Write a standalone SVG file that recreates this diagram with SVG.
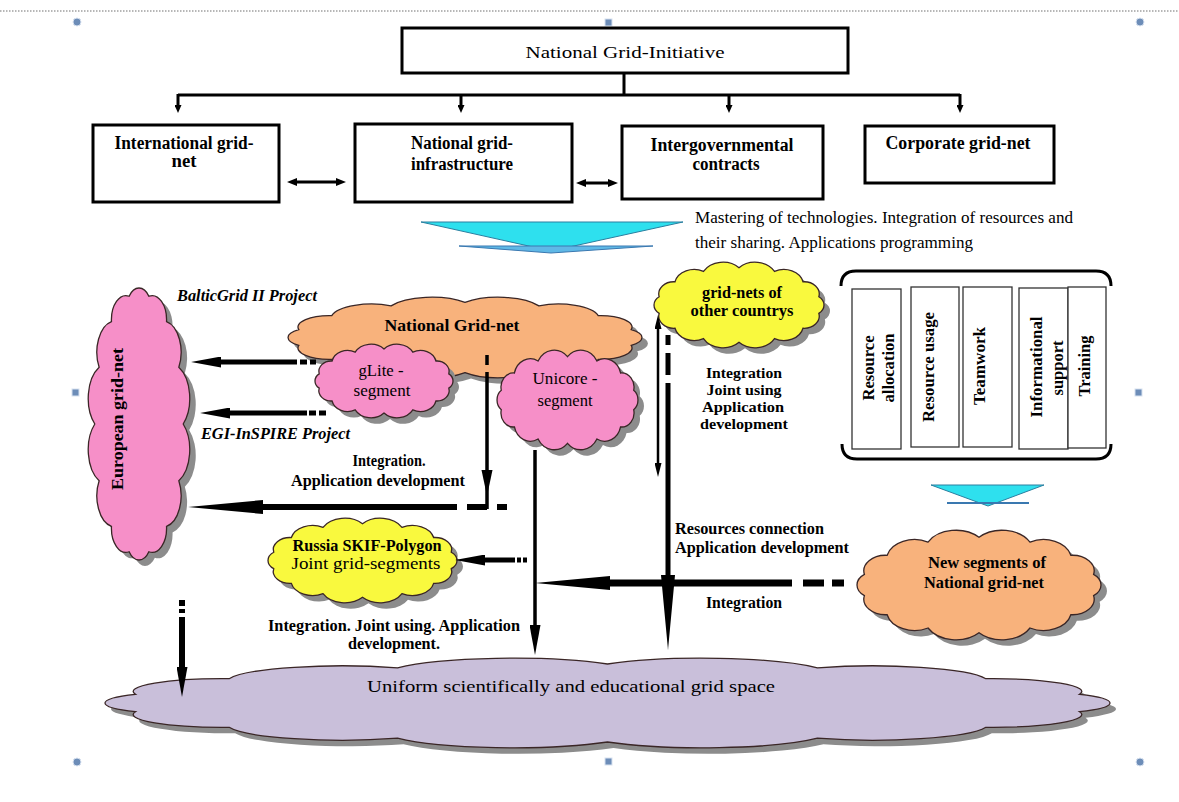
<svg xmlns="http://www.w3.org/2000/svg" width="1179" height="802" viewBox="0 0 1179 802">
<style>
text{font-family:"Liberation Serif","Times New Roman",serif;fill:#000}
.b{font-weight:bold;font-size:16.5px}
.bs{font-weight:bold;font-size:15px}
.bi{font-weight:bold;font-style:italic;font-size:16px}
.r{font-weight:normal;font-size:17px}
.bx{font-weight:bold;font-size:18px}
.m{text-anchor:middle}
.box{fill:#fff;stroke:#000;stroke-width:3}
.col{fill:#fff;stroke:#333;stroke-width:1.3}
.cl{stroke:#3a2626;stroke-width:1.3}
.sh{fill:#8c8c8c}
.pink{fill:#f68fc8}
.orange{fill:#f8b27c}
.yellow{fill:#f9f93e}
.lav{fill:#c9bfda}
.ln{fill:none;stroke:#000}
.hd{fill:#000}
.hnd{fill:#6d8db8;stroke:#d8e2f0;stroke-width:1}
</style>
<defs>
<path id="cloud" vector-effect="non-scaling-stroke" d="M100,8 A25,25 0 0 1 139.9,13.15 A22,22 0 0 1 171.9,27.6 A17,17 0 0 1 189.7,48.4 A14.5,14.5 0 0 1 189.7,71.6 A17,17 0 0 1 171.9,92.4 A22,22 0 0 1 139.9,106.9 A25,25 0 0 1 100,112 A25,25 0 0 1 60.1,106.9 A22,22 0 0 1 28.1,92.4 A17,17 0 0 1 10.3,71.6 A14.5,14.5 0 0 1 10.3,48.4 A17,17 0 0 1 28.1,27.6 A22,22 0 0 1 60.1,13.15 A25,25 0 0 1 100,8 Z"/>
<marker id="ah" markerUnits="userSpaceOnUse" markerWidth="8" markerHeight="7" refX="0" refY="3.5" orient="auto"><path d="M0,0 L8,3.5 L0,7 z" class="hd"/></marker>
<marker id="ad" markerUnits="userSpaceOnUse" markerWidth="10" markerHeight="8" refX="0" refY="4" orient="auto-start-reverse"><path d="M0,0 L10,4 L0,8 z" class="hd"/></marker>
<marker id="at" markerUnits="userSpaceOnUse" markerWidth="14" markerHeight="7" refX="0" refY="3.5" orient="auto-start-reverse"><path d="M0,0 L14,3.5 L0,7 z" class="hd"/></marker>
<marker id="am" markerUnits="userSpaceOnUse" markerWidth="30" markerHeight="11" refX="0" refY="5.5" orient="auto"><path d="M0,0 L30,5.5 L0,11 z" class="hd"/></marker>
<marker id="al" markerUnits="userSpaceOnUse" markerWidth="75" markerHeight="14" refX="0" refY="7" orient="auto"><path d="M0,0 L75,7 L0,14 z" class="hd"/></marker>
</defs>

<g id="canvas-frame">
<line x1="0" y1="11" x2="1179" y2="11" stroke="#a0a0a0" stroke-width="1.5" stroke-dasharray="1.5 1.5"/>
<circle class="hnd" cx="77" cy="22" r="4"/>
<circle class="hnd" cx="1140" cy="22" r="4"/>
<circle class="hnd" cx="77" cy="762" r="4"/>
<circle class="hnd" cx="1140" cy="762" r="4"/>
<rect class="hnd" x="605" y="19" width="7" height="7"/>
<rect class="hnd" x="72" y="389" width="7" height="7"/>
<rect class="hnd" x="1135" y="389" width="7" height="7"/>
<rect class="hnd" x="605" y="758" width="7" height="7"/>
</g>

<g id="node-initiative">
<rect class="box" x="402" y="28" width="446" height="45"/>
<text class="r m" x="625" y="58" font-size="19" textLength="199" lengthAdjust="spacingAndGlyphs">National Grid-Initiative</text>
</g>
<g id="node-international">
<rect class="box" x="93" y="125" width="186" height="77"/>
<text class="bx m" x="184" y="149" textLength="139" lengthAdjust="spacingAndGlyphs">International grid-</text>
<text class="bx m" x="184" y="167" textLength="25" lengthAdjust="spacingAndGlyphs">net</text>
</g>
<g id="node-national-infra">
<rect class="box" x="355" y="124" width="217" height="78"/>
<text class="bx m" x="462" y="149" textLength="102" lengthAdjust="spacingAndGlyphs">National grid-</text>
<text class="bx m" x="462" y="170" textLength="102" lengthAdjust="spacingAndGlyphs">infrastructure</text>
</g>
<g id="node-intergov">
<rect class="box" x="622" y="126" width="201" height="73"/>
<text class="bx m" x="722" y="151" textLength="143" lengthAdjust="spacingAndGlyphs">Intergovernmental</text>
<text class="bx m" x="726" y="170" textLength="67" lengthAdjust="spacingAndGlyphs">contracts</text>
</g>
<g id="node-corporate">
<rect class="box" x="865" y="126" width="189" height="57"/>
<text class="bx m" x="958" y="149" textLength="145" lengthAdjust="spacingAndGlyphs">Corporate grid-net</text>
</g>

<g id="chevron-main">
<polygon points="421,222 683,222 551,251" fill="#2ee0ee" stroke="#2a7fa0" stroke-width="1"/>
<polygon points="459,246 653,246 551,253" fill="#5fb8e6" stroke="#3a78b0" stroke-width="1"/>
<text class="r" x="695" y="223" font-size="17.5" textLength="378" lengthAdjust="spacingAndGlyphs">Mastering of technologies. Integration of resources and</text>
<text class="r" x="695" y="248" font-size="17.5" textLength="278" lengthAdjust="spacingAndGlyphs">their sharing. Applications programming</text>
</g>

<g id="node-european">
<use href="#cloud" class="sh" transform="translate(145,430) rotate(90) scale(1.424,0.85) translate(-100,-60)"/>
<use href="#cloud" class="pink cl" transform="translate(139,424) rotate(90) scale(1.424,0.85) translate(-100,-60)"/>
<text class="b m" transform="translate(117,419) rotate(-90)" font-size="17.5" dominant-baseline="central" textLength="142" lengthAdjust="spacingAndGlyphs">European grid-net</text>
</g>

<g id="node-national-gridnet">
<use href="#cloud" class="sh" transform="translate(285.7,303) scale(1.853,0.675)"/>
<use href="#cloud" class="orange cl" transform="translate(279.7,297) scale(1.853,0.675)"/>
<text class="b m" x="452" y="331" font-size="17.5" textLength="135" lengthAdjust="spacingAndGlyphs">National Grid-net</text>
</g>
<g id="node-glite">
<use href="#cloud" class="sh" transform="translate(317.75,350) scale(0.7225,0.6167)"/>
<use href="#cloud" class="pink cl" transform="translate(311.75,344) scale(0.7225,0.6167)"/>
<text class="r m" x="381" y="376" textLength="45" lengthAdjust="spacingAndGlyphs">gLite -</text>
<text class="r m" x="382" y="396" textLength="57" lengthAdjust="spacingAndGlyphs">segment</text>
</g>
<g id="node-unicore">
<use href="#cloud" class="sh" transform="translate(499.7,356) scale(0.738,0.833)"/>
<use href="#cloud" class="pink cl" transform="translate(493.7,350) scale(0.738,0.833)"/>
<text class="r m" x="565" y="384" textLength="65" lengthAdjust="spacingAndGlyphs">Unicore -</text>
<text class="r m" x="565" y="406" textLength="55" lengthAdjust="spacingAndGlyphs">segment</text>
</g>
<g id="node-other-countries">
<use href="#cloud" class="sh" transform="translate(656,268) scale(0.890,0.717)"/>
<use href="#cloud" class="yellow cl" transform="translate(650,262) scale(0.890,0.717)"/>
<text class="b m" x="742" y="298" textLength="80" lengthAdjust="spacingAndGlyphs">grid-nets of</text>
<text class="b m" x="742" y="316" textLength="103" lengthAdjust="spacingAndGlyphs">other countrys</text>
</g>

<g id="node-services">
<path class="ln" stroke-width="3" d="M841,286 Q841,271 856,271 L1096,271 Q1111,271 1111,286"/>
<path class="ln" stroke-width="3" d="M842,444 Q842,459 857,459 L1096,459 Q1111,459 1111,444"/>
<rect class="col" x="852" y="289" width="49" height="160"/>
<rect class="col" x="911" y="287" width="48" height="160"/>
<rect class="col" x="963" y="287" width="49" height="160"/>
<rect class="col" x="1019" y="288" width="49" height="161"/>
<rect class="col" x="1068" y="287" width="38" height="161"/>
<text class="b m" transform="translate(868,368) rotate(-90)" dominant-baseline="central" textLength="65" lengthAdjust="spacingAndGlyphs">Resource</text>
<text class="b m" transform="translate(888,368) rotate(-90)" dominant-baseline="central" textLength="69" lengthAdjust="spacingAndGlyphs">allocation</text>
<text class="b m" transform="translate(928,367) rotate(-90)" dominant-baseline="central" textLength="110" lengthAdjust="spacingAndGlyphs">Resource usage</text>
<text class="b m" transform="translate(979,366) rotate(-90)" dominant-baseline="central" textLength="78" lengthAdjust="spacingAndGlyphs">Teamwork</text>
<text class="b m" transform="translate(1036,367) rotate(-90)" dominant-baseline="central" textLength="101" lengthAdjust="spacingAndGlyphs">Informational</text>
<text class="b m" transform="translate(1057,368) rotate(-90)" dominant-baseline="central" textLength="55" lengthAdjust="spacingAndGlyphs">support</text>
<text class="b m" transform="translate(1084,366) rotate(-90)" dominant-baseline="central" textLength="61" lengthAdjust="spacingAndGlyphs">Training</text>
</g>

<g id="chevron-small">
<polygon points="931,485 1044,485 988,506" fill="#2ee0ee" stroke="#2a7fa0" stroke-width="1"/>
<line x1="947" y1="503" x2="1029" y2="503" stroke="#3a78b0" stroke-width="2"/>
</g>

<g id="node-russia">
<use href="#cloud" class="sh" transform="translate(269.55,524) scale(0.9895,0.708)"/>
<use href="#cloud" class="yellow cl" transform="translate(263.55,518) scale(0.9895,0.708)"/>
<text class="b m" x="367" y="551" textLength="149" lengthAdjust="spacingAndGlyphs">Russia SKIF-Polygon</text>
<text class="r m" x="366" y="569" textLength="149" lengthAdjust="spacingAndGlyphs">Joint grid-segments</text>
</g>
<g id="node-new-segments">
<use href="#cloud" class="sh" transform="translate(857.25,536) scale(1.2775,0.9167)"/>
<use href="#cloud" class="orange cl" transform="translate(851.25,530) scale(1.2775,0.9167)"/>
<text class="b m" x="987" y="568" textLength="118" lengthAdjust="spacingAndGlyphs">New segments of</text>
<text class="b m" x="984" y="588" textLength="120" lengthAdjust="spacingAndGlyphs">National grid-net</text>
</g>
<g id="node-uniform">
<use href="#cloud" class="sh" transform="translate(87.3,664) scale(5.262,0.75)"/>
<use href="#cloud" class="lav cl" transform="translate(81.3,658) scale(5.262,0.75)"/>
<text class="r" x="367" y="692" font-size="21" textLength="408" lengthAdjust="spacingAndGlyphs">Uniform scientifically and educational grid space</text>
</g>

<g id="connectors">
<path class="ln" stroke-width="3" d="M624,73 V95 M178,95 H960"/>
<line class="ln" stroke-width="3" x1="178" y1="94" x2="178" y2="105" marker-end="url(#ah)"/>
<line class="ln" stroke-width="3" x1="461" y1="94" x2="461" y2="105" marker-end="url(#ah)"/>
<line class="ln" stroke-width="3" x1="729" y1="94" x2="729" y2="105" marker-end="url(#ah)"/>
<line class="ln" stroke-width="3" x1="960" y1="94" x2="960" y2="105" marker-end="url(#ah)"/>
<line class="ln" stroke-width="3" x1="297" y1="182" x2="336" y2="182" marker-start="url(#ad)" marker-end="url(#ad)"/>
<line class="ln" stroke-width="3" x1="586" y1="183" x2="608" y2="183" marker-start="url(#ad)" marker-end="url(#ad)"/>

<line class="ln" stroke-width="5" x1="297" y1="362" x2="221" y2="362" marker-end="url(#am)"/>
<path class="ln" stroke-width="5" d="M300,362h7m3,0h6"/>
<line class="ln" stroke-width="5" x1="307" y1="413" x2="230" y2="413" marker-end="url(#am)"/>
<path class="ln" stroke-width="5" d="M309,413h7m3,0h7"/>

<path class="ln" stroke-width="3.5" d="M487,355v10 M487,372V509"/>
<polygon class="hd" points="481.5,470 492.5,470 487,496"/>
<line class="ln" stroke-width="6" x1="457" y1="507" x2="263" y2="507" marker-end="url(#al)"/>
<path class="ln" stroke-width="6" d="M467,507h20m10,0h10"/>

<line class="ln" stroke-width="3.5" x1="535" y1="450" x2="535" y2="625" marker-end="url(#am)"/>
<line class="ln" stroke-width="7" x1="792" y1="583" x2="610" y2="583" marker-end="url(#al)"/>
<path class="ln" stroke-width="7" d="M803,583h21m8,0h12"/>

<path class="ln" stroke-width="5" d="M668,335v10m0,8v22"/>
<line class="ln" stroke-width="5" x1="668" y1="383" x2="668" y2="575" marker-end="url(#al)"/>
<line class="ln" stroke-width="2.5" x1="658" y1="329" x2="658" y2="463" marker-start="url(#at)" marker-end="url(#at)"/>

<line class="ln" stroke-width="5" x1="515" y1="560" x2="485" y2="560" marker-end="url(#am)"/>
<path class="ln" stroke-width="5" d="M517,560h4m2,0h4"/>

<path class="ln" stroke-width="6" d="M182,600v6m0,3v4"/>
<line class="ln" stroke-width="6" x1="182" y1="617" x2="182" y2="667" marker-end="url(#am)"/>
</g>

<g id="labels">
<text class="bi" x="177" y="301" textLength="140" lengthAdjust="spacingAndGlyphs">BalticGrid II Project</text>
<text class="bi" x="201" y="439" textLength="149" lengthAdjust="spacingAndGlyphs">EGI-InSPIRE Project</text>
<text class="b m" x="389" y="466" textLength="73" lengthAdjust="spacingAndGlyphs">Integration.</text>
<text class="b m" x="378" y="486" textLength="174" lengthAdjust="spacingAndGlyphs">Application development</text>
<text class="bs m" x="744" y="378" textLength="76" lengthAdjust="spacingAndGlyphs">Integration</text>
<text class="bs m" x="744" y="395" textLength="75" lengthAdjust="spacingAndGlyphs">Joint using</text>
<text class="bs m" x="743" y="412" textLength="82" lengthAdjust="spacingAndGlyphs">Application</text>
<text class="bs m" x="744" y="429" textLength="88" lengthAdjust="spacingAndGlyphs">development</text>
<text class="b" x="675" y="534" textLength="149" lengthAdjust="spacingAndGlyphs">Resources connection</text>
<text class="b" x="675" y="553" textLength="174" lengthAdjust="spacingAndGlyphs">Application development</text>
<text class="b m" x="744" y="608" textLength="76" lengthAdjust="spacingAndGlyphs">Integration</text>
<text class="b m" x="394" y="631" textLength="252" lengthAdjust="spacingAndGlyphs">Integration. Joint using. Application</text>
<text class="b m" x="394" y="649" textLength="92" lengthAdjust="spacingAndGlyphs">development.</text>
</g>
</svg>
